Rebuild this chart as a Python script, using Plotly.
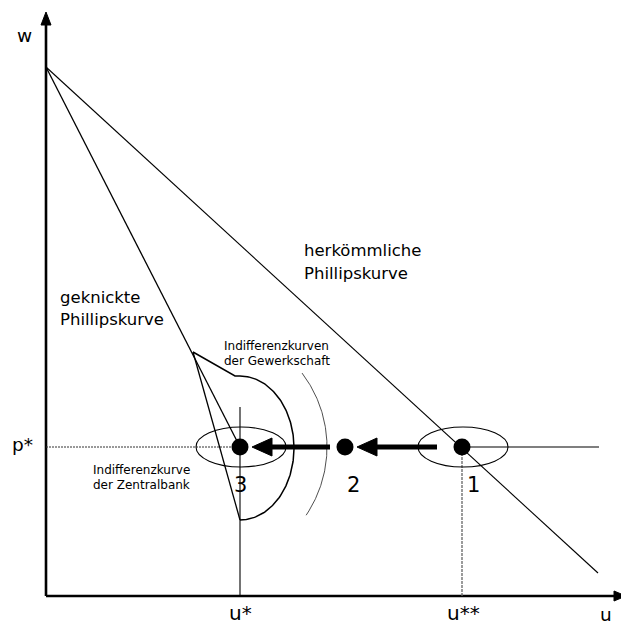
import numpy as np
import plotly.graph_objects as go

# ---- data (diagram coordinates: u = unemployment, w = wage inflation) ----
w_top = 529            # intercept of both Phillips curves on the w axis
p_star = 149           # target inflation p*
u_star = 194           # u*
u_mid = 299            # point 2
u_ss = 416             # u**
conv_end = (552, 23)   # end of the conventional Phillips curve
kink = (147, 244)      # kink of the kinked Phillips curve
kink_low = (194, 76)   # lower end of the kinked curve
arc_start = (189, 220) # start of the union indifference curve
points_u = [u_star, u_mid, u_ss]
point_labels = ["3", "2", "1"]

FONT = "DejaVu Sans"
fig = go.Figure()

def line(xs, ys, width=1.0, color="black", dash=None):
    fig.add_trace(go.Scatter(x=xs, y=ys, mode="lines",
                             line=dict(color=color, width=width, dash=dash),
                             hoverinfo="skip", showlegend=False))

def tri(xs, ys):
    fig.add_trace(go.Scatter(x=xs + [xs[0]], y=ys + [ys[0]], mode="lines",
                             fill="toself", fillcolor="black",
                             line=dict(color="black", width=1),
                             hoverinfo="skip", showlegend=False))

# axes
line([0, 0], [0, 572], width=2.6)
line([0, 570], [0, 0], width=2.6)
tri([-5, 5, 0], [571, 571, 584])
tri([568, 568, 580], [-5, 5, 0])

# guide lines
line([0, u_star], [p_star, p_star], width=1, color="#333", dash="2px,1px")
line([u_ss, 553], [p_star, p_star], width=1.2)
line([u_ss, u_ss], [0, p_star], width=1.3, color="#666", dash="3px,1px")
line([u_star, u_star], [0, 189], width=1.1)

# conventional Phillips curve
line([0, conv_end[0]], [w_top, conv_end[1]], width=1.1)
# kinked Phillips curve
line([0, u_star], [w_top, p_star], width=1.3)
line([kink[0], kink_low[0]], [kink[1], kink_low[1]], width=1.3)

# union indifference curves (segment from the kink joined to the arc)
t = np.linspace(np.pi / 2, -np.pi / 2, 140)
arc_u = list(u_star + 54 * np.cos(t))
arc_w = list(p_star - 1 + 72 * np.sin(t))
line([kink[0], arc_start[0]] + arc_u, [kink[1], arc_start[1]] + arc_w, width=1.5)
cx, r = u_star - 35, 122
t2 = np.linspace(np.radians(37.3), np.radians(-34), 120)
line(list(cx + r * np.cos(t2)), list(p_star + r * np.sin(t2)), width=0.8, color="#222")

# ellipses around points 3 and 1
for cu in (u_star + 1, u_ss + 1):
    fig.add_shape(type="circle", xref="x", yref="y",
                  x0=cu - 45, x1=cu + 45, y0=p_star - 20, y1=p_star + 20,
                  line=dict(color="black", width=1.1))

# thick arrows 1 -> 2 and 2 -> 3
for u_from, u_to, g0, g1 in ((u_ss, u_mid, 25, 12), (u_mid, u_star, 15, 12)):
    tip = u_to + g1
    base = tip + 20
    line([u_from - g0, base - 2], [p_star, p_star], width=4.8)
    tri([tip, base, base], [p_star, p_star + 9, p_star - 9])

# points
fig.add_trace(go.Scatter(x=points_u, y=[p_star] * 3, mode="markers",
                         marker=dict(color="black", size=17, line=dict(width=0)),
                         hoverinfo="skip", showlegend=False))

def text(x, y, s, size, anchor="left"):
    fig.add_annotation(x=x, y=y, xref="x", yref="y", text=s, showarrow=False,
                       xanchor=anchor, yanchor="middle", align="left",
                       font=dict(family=FONT, size=size, color="black"))

for u, lab, dx in zip(points_u, point_labels, (0, 8, 11)):
    text(u + dx, p_star - 38, lab, 21, "center")

text(-22, 561, "w", 18.5, "center")
text(-24, 152, "p*", 18.5, "center")
text(560, -18, "u", 18.5, "center")
text(u_star, -17, "u*", 20, "center")
text(u_ss + 1, -17, "u**", 20, "center")

text(256, 346, "herkömmliche", 16.5)
text(256, 323, "Phillipskurve", 16.5)
text(12, 299, "geknickte", 16.5)
text(12, 277, "Phillipskurve", 16.5)
text(176, 250, "Indifferenzkurven", 12)
text(176, 235, "der Gewerkschaft", 12)
text(45, 126, "Indifferenzkurve", 12)
text(45, 111, "der Zentralbank", 12)

fig.update_layout(
    width=621, height=624, margin=dict(l=0, r=0, t=0, b=0),
    paper_bgcolor="white", plot_bgcolor="white",
    xaxis=dict(range=[-46, 575], visible=False, fixedrange=True),
    yaxis=dict(range=[-28, 596], visible=False, fixedrange=True),
    showlegend=False,
)
fig.write_html("out.html", config={"displayModeBar": False},
               post_script="document.body.style.margin='0';document.body.style.overflow='hidden';")
